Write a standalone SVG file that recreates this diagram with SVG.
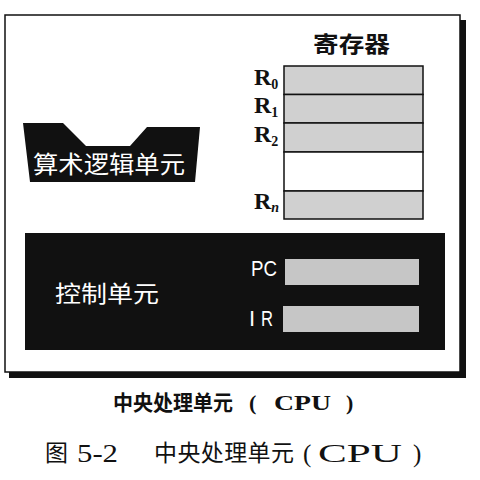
<svg xmlns="http://www.w3.org/2000/svg" width="480" height="480" viewBox="0 0 480 480">
  <style>
    .cjk { font-family: "Noto Sans CJK SC", "Liberation Sans", sans-serif; }
    .serif { font-family: "Liberation Serif", "Noto Sans CJK SC", serif; }
    .sans { font-family: "Liberation Sans", "Noto Sans CJK SC", sans-serif; }
    .reg { fill: #d0d0d0; stroke: #111; stroke-width: 1.5; }
    .gap { fill: #ffffff; stroke: #111; stroke-width: 1.5; }
    .bar { fill: #c6c6c6; }
    .rlab { font-size: 24px; font-weight: bold; fill: #111; }
    .rsub { font-size: 14px; font-weight: bold; fill: #111; }
  </style>

  <rect width="480" height="480" fill="#ffffff"/>

  <!-- CPU frame with drop shadow -->
  <g id="cpu-frame">
    <rect x="9" y="20" width="457" height="358" fill="#111"/>
    <rect x="5" y="15" width="455" height="357" fill="#ffffff" stroke="#111" stroke-width="1.5"/>
  </g>

  <!-- Register file -->
  <g id="registers">
    <text class="cjk" x="313" y="52" font-size="22" font-weight="bold" fill="#111" textLength="77" lengthAdjust="spacingAndGlyphs">寄存器</text>
    <rect class="reg" x="284" y="66" width="139" height="28.5"/>
    <rect class="reg" x="284" y="94.5" width="139" height="28.5"/>
    <rect class="reg" x="284" y="123" width="139" height="29"/>
    <rect class="gap" x="284" y="152" width="139" height="39"/>
    <rect class="reg" x="284" y="191" width="139" height="28"/>
    <text class="serif rlab" x="254" y="85">R<tspan class="rsub" dy="4">0</tspan></text>
    <text class="serif rlab" x="254" y="113">R<tspan class="rsub" dy="4">1</tspan></text>
    <text class="serif rlab" x="254" y="142">R<tspan class="rsub" dy="4">2</tspan></text>
    <text class="serif rlab" x="254" y="209">R<tspan class="rsub" dy="3" font-style="italic">n</tspan></text>
  </g>

  <!-- Arithmetic logic unit -->
  <g id="alu">
    <polygon points="23,123 63,123 86,146 130,146 147,127 200,127 195,182 30,182" fill="#111"/>
    <text class="cjk" x="33" y="173" font-size="24" fill="#ffffff" textLength="152" lengthAdjust="spacingAndGlyphs">算术逻辑单元</text>
  </g>

  <!-- Control unit -->
  <g id="control-unit">
    <rect x="25" y="233" width="420" height="117" fill="#111"/>
    <text class="cjk" x="55" y="302" font-size="23" fill="#ffffff" textLength="104" lengthAdjust="spacingAndGlyphs">控制单元</text>
    <text class="sans" x="251" y="276" font-size="22" fill="#ffffff" textLength="26" lengthAdjust="spacingAndGlyphs">PC</text>
    <rect class="bar" x="285" y="259" width="134" height="26"/>
    <text class="sans" x="249" y="326" font-size="22" fill="#ffffff">I</text>
    <text class="sans" x="261" y="326" font-size="22" fill="#ffffff" textLength="12" lengthAdjust="spacingAndGlyphs">R</text>
    <rect class="bar" x="283" y="306" width="136" height="26"/>
  </g>

  <!-- Captions -->
  <g id="caption-title" font-weight="bold" fill="#111">
    <text class="cjk" x="113" y="410" font-size="21" textLength="120" lengthAdjust="spacingAndGlyphs">中央处理单元</text>
    <text class="serif" x="249" y="410" font-size="22">(</text>
    <text class="serif" x="274" y="410" font-size="22" textLength="57" lengthAdjust="spacingAndGlyphs">CPU</text>
    <text class="serif" x="346" y="410" font-size="22">)</text>
  </g>
  <g id="caption-figure" fill="#111">
    <text class="cjk" x="45" y="461" font-size="23">图</text>
    <text class="serif" x="77" y="462" font-size="25" textLength="41" lengthAdjust="spacingAndGlyphs">5-2</text>
    <text class="cjk" x="154" y="461" font-size="23" textLength="140" lengthAdjust="spacing">中央处理单元</text>
    <text class="serif" x="303" y="462" font-size="25">(</text>
    <text class="serif" x="318" y="462" font-size="25" textLength="84" lengthAdjust="spacingAndGlyphs">CPU</text>
    <text class="serif" x="413" y="462" font-size="25">)</text>
  </g>
</svg>
